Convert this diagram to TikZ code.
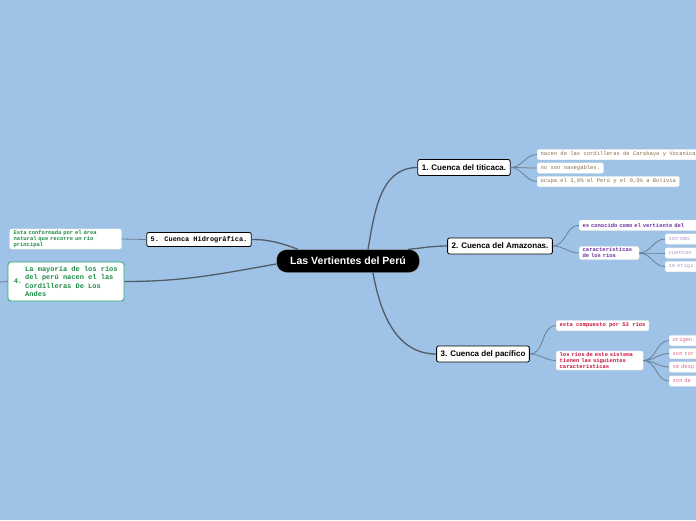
\documentclass[tikz,border=0pt]{standalone}
\usepackage{fontspec}
\setmainfont{Liberation Sans}
\newfontfamily\monofont{Liberation Mono}

\definecolor{sky}{RGB}{158,195,230}
\definecolor{trunkgray}{RGB}{82,92,104}
\definecolor{twiggray}{RGB}{108,126,146}
\definecolor{titibrown}{RGB}{140,112,72}
\definecolor{amazpurple}{RGB}{112,48,160}
\definecolor{amazlight}{RGB}{178,150,208}
\definecolor{pacired}{RGB}{200,20,60}
\definecolor{pacilight}{RGB}{226,104,134}
\definecolor{andgreen}{RGB}{30,140,70}
\definecolor{andborder}{RGB}{44,170,110}

\newcommand{\leaffont}{\monofont\fontsize{5.5}{6}\selectfont}
\newcommand{\bigleaffont}{\monofont\bfseries\fontsize{7}{8.3}\selectfont}

\begin{document}
\begin{tikzpicture}[
            x=1pt, y=-1pt,
            root/.style={rounded corners=10pt, fill=black, draw=gray!50, text=white, font=\bfseries\fontsize{10.5}{12}\selectfont, minimum width=143pt, minimum height=23pt, inner sep=0pt},
            topic/.style={rounded corners=2pt, fill=white, draw=black, line width=0.8pt, font=\bfseries\fontsize{8}{9}\selectfont, minimum height=16pt, inner xsep=4pt, inner ysep=0pt},
            leaf/.style={rounded corners=2pt, fill=white, draw=black!12, line width=0.3pt, font=\leaffont, minimum height=10.5pt, inner xsep=3.5pt, inner ysep=1.5pt, anchor=west, align=left},
            trunk/.style={draw=trunkgray, line width=1.3pt},
            twig/.style={draw=twiggray, line width=0.8pt}
        ]
        \clip (0,0) rectangle (696,520);
        \fill[sky] (0,0) rectangle (696,520);

        % --- Central node ---
        \node[root] (root) at (348,261) {Las Vertientes del Perú};

        % --- Main topics ---
        \node[topic] (t1) at (464,167.5) {1. Cuenca del titicaca.};
        \node[topic] (t2) at (500,246) {2. Cuenca del Amazonas.};
        \node[topic] (t3) at (483,354) {3. Cuenca del pacífico};
        \node[topic, font=\monofont\bfseries\fontsize{6.9}{8}\selectfont, minimum height=14pt] (t5) at (199,239.5) {5. Cuenca Hidrográfica.};
        \node[rounded corners=3pt, fill=white, draw=andborder, line width=0.8pt, text=andgreen, font=\bigleaffont, minimum width=116pt, minimum height=39pt, inner xsep=5pt] (t4) at (66,281.5)
            {4.\hspace{3pt}\parbox[c]{93pt}{La mayoría de los ríos\\del perú nacen el las\\Cordilleras De Los\\Andes}};

        % --- Titicaca leaves ---
        \node[leaf, text=titibrown] (ti1) at (537,154.5) {nacen de las cordilleras de Carabaya y Vocanica};
        \node[leaf, text=titibrown] (ti2) at (537,168) {no son navegables.};
        \node[leaf, text=titibrown] (ti3) at (537,181.5) {ocupa el 3,8\% al Perú y el 0,5\% a Bolivia};

        % --- Amazonas leaves ---
        \node[leaf, text=amazpurple, font=\leaffont\bfseries, text width=130pt] (am1) at (579,225.3) {es conocido como el vertiente del};
        \node[leaf, text=amazpurple, font=\leaffont\bfseries, text width=53pt] (am2) at (579,253) {caracteristicas\\de los ríos};
        \node[leaf, text=amazlight, text width=60pt] (am21) at (665,239) {son más};
        \node[leaf, text=amazlight, text width=60pt] (am22) at (665,253) {cuentan};
        \node[leaf, text=amazlight, text width=60pt] (am23) at (665,266.5) {se origi};

        % --- Pacifico leaves ---
        \node[leaf, text=pacired, font=\leaffont\bfseries] (pa1) at (556,325.5) {esta compuesto por 53 ríos};
        \node[leaf, text=pacired, font=\leaffont\bfseries, text width=80pt] (pa2) at (556,360.5) {los ríos de este sistema\\tienen las siguientes\\caracteristicas};
        \node[leaf, text=pacilight, text width=60pt] (pa21) at (669,340.5) {origen};
        \node[leaf, text=pacilight, text width=60pt] (pa22) at (669,353.5) {son tor};
        \node[leaf, text=pacilight, text width=60pt] (pa23) at (669,367) {se desp};
        \node[leaf, text=pacilight, text width=60pt] (pa24) at (669,381) {son de};

        % --- Hidrografica leaf ---
        \node[leaf, text=andgreen, font=\leaffont\bfseries, text width=104pt, anchor=center, inner xsep=4pt] (hi1) at (65.5,239) {Esta conformada por el área\\natural que recorre un río\\principal};
        \coordinate (edge4) at (0,282);

        % --- Main branches ---
        \draw[trunk] ([xshift=20pt]root.north) to[out=80,in=180] (t1.west);
        \draw[trunk] ([xshift=60pt]root.north) to[out=5,in=180] (t2.west);
        \draw[trunk] ([xshift=25pt]root.south) to[out=-80,in=180] (t3.west);
        \draw[trunk] ([xshift=-50pt]root.north) to[out=160,in=0] (t5.east);
        \draw[trunk] ([yshift=-3pt]root.west) to[out=190,in=0] (t4.east);

        % --- Sub branches ---
        \foreach \leafname in {ti1,ti2,ti3}
            \draw[twig] (t1.east) to[out=0,in=180] (\leafname.west);
        \foreach \leafname in {am1,am2}
            \draw[twig] (t2.east) to[out=0,in=180] (\leafname.west);
        \foreach \leafname in {am21,am22,am23}
            \draw[twig] (am2.east) to[out=0,in=180] (\leafname.west);
        \foreach \leafname in {pa1,pa2}
            \draw[twig] (t3.east) to[out=0,in=180] (\leafname.west);
        \foreach \leafname in {pa21,pa22,pa23,pa24}
            \draw[twig] (pa2.east) to[out=0,in=180] (\leafname.west);
        \draw[twig] (t5.west) -- (hi1.east);
        \draw[twig] (t4.west) -- (edge4);
        \end{tikzpicture}
\end{document}
